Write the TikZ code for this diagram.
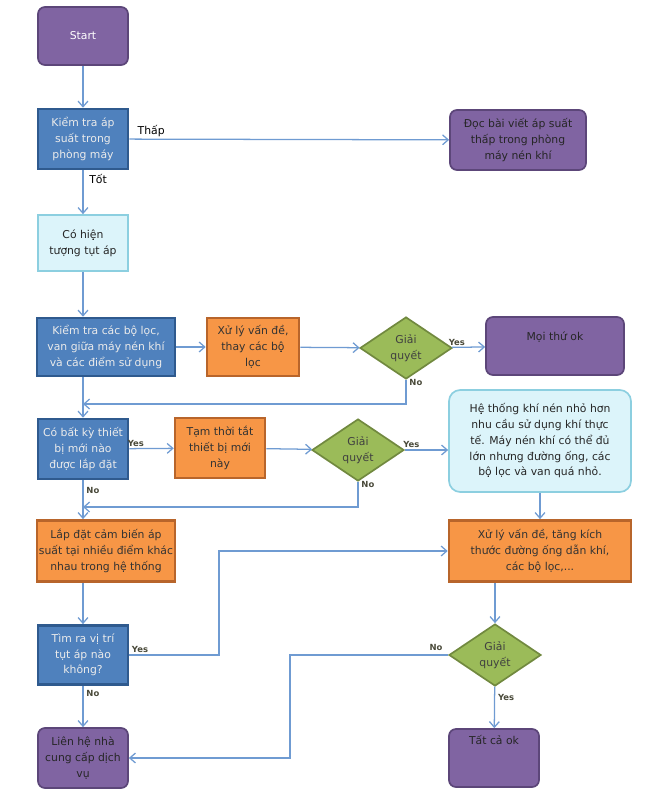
\documentclass[tikz,border=0pt]{standalone}
\usepackage{fontspec}
\setmainfont{DejaVu Sans}
\usetikzlibrary{shapes.geometric,arrows.meta}

\definecolor{purplefill}{HTML}{8064A2}
\definecolor{purpleline}{HTML}{5C4679}
\definecolor{bluefill}{HTML}{4F81BD}
\definecolor{blueline}{HTML}{2F5A8E}
\definecolor{orangefill}{HTML}{F79646}
\definecolor{orangeline}{HTML}{B8652B}
\definecolor{greenfill}{HTML}{9BBB59}
\definecolor{greenline}{HTML}{71893F}
\definecolor{cyanfill}{HTML}{DCF4FA}
\definecolor{cyanline}{HTML}{8CCFE0}
\definecolor{arrowblue}{HTML}{6F9BD2}
\definecolor{labelgrey}{HTML}{4A4A3A}

\begin{document}
\begin{tikzpicture}[x=0.025cm, y=-0.025cm,
    every node/.style={align=center, font=\fontsize{7.7}{11.2}\selectfont, inner sep=1pt},
    endbox/.style={rectangle, rounded corners=5pt, draw=purpleline, line width=1.2pt, fill=purplefill, text=black!85},
    checkbox/.style={rectangle, draw=blueline, line width=1.8pt, fill=bluefill, text=white!92!black},
    fixbox/.style={rectangle, draw=orangeline, line width=1.8pt, fill=orangefill, text=black!80},
    infobox/.style={rectangle, draw=cyanline, line width=1.2pt, fill=cyanfill, text=black!85},
    decide/.style={diamond, draw=greenline, line width=1.2pt, fill=greenfill, text=black!75, minimum width=2.3cm, minimum height=1.55cm, inner sep=0pt},
    lbl/.style={fill=none, text=labelgrey, font=\fontsize{6}{7}\selectfont\bfseries},
    txt/.style={fill=none, text=black, font=\fontsize{7.7}{9}\selectfont},
    flow/.style={->, draw=arrowblue, line width=0.9pt},
    >={Straight Barb[length=4pt, width=7pt]}]

    \useasboundingbox (0,0) rectangle (664,800);

    % nodes
    \node (start) at (83,36) [endbox, text=white, minimum width=2.25cm, minimum height=1.45cm] {Start};
    \node (check1) at (83,139) [checkbox, minimum width=2.25cm, minimum height=1.5cm] {Kiểm tra áp\\suất trong\\phòng máy};
    \node (read) at (518,140) [endbox, minimum width=3.4cm, minimum height=1.5cm] {Đọc bài viết áp suất\\thấp trong phòng\\máy nén khí};
    \node (cohien) at (83,243) [infobox, minimum width=2.25cm, minimum height=1.4cm] {Có hiện\\tượng tụt áp};
    \node (check2) at (106,347) [checkbox, minimum width=3.45cm, minimum height=1.45cm] {Kiểm tra các bộ lọc,\\van giữa máy nén khí\\và các điểm sử dụng};
    \node (fix1) at (253,347) [fixbox, minimum width=2.3cm, minimum height=1.45cm] {Xử lý vấn đề,\\thay các bộ\\lọc};
    \node (dec1) at (406,348) [decide] {Giải\\quyết};
    \node (ok1) at (555,346) [endbox, minimum width=3.45cm, minimum height=1.45cm] {Mọi thứ ok\\\strut};
    \coordinate (m1) at (83,404);
    \node (check3) at (83,449) [checkbox, minimum width=2.25cm, minimum height=1.5cm] {Có bất kỳ thiết\\bị mới nào\\được lắp đặt};
    \node (tmp) at (220,448) [fixbox, minimum width=2.25cm, minimum height=1.5cm] {Tạm thời tắt\\thiết bị mới\\này};
    \node (dec2) at (358,450) [decide] {Giải\\quyết};
    \node (sys) at (540,441) [infobox, rounded corners=8pt, minimum width=4.55cm, minimum height=2.55cm] {Hệ thống khí nén nhỏ hơn\\nhu cầu sử dụng khí thực\\tế. Máy nén khí có thể đủ\\lớn nhưng đường ống, các\\bộ lọc và van quá nhỏ.};
    \coordinate (m2) at (83,507);
    \node (install) at (106,551) [fixbox, minimum width=3.45cm, minimum height=1.53cm] {Lắp đặt cảm biến áp\\suất tại nhiều điểm khác\\nhau trong hệ thống};
    \node (fix2) at (540,551) [fixbox, minimum width=4.55cm, minimum height=1.53cm] {Xử lý vấn đề, tăng kích\\thước đường ống dẫn khí,\\các bộ lọc,...};
    \node (find) at (83,655) [checkbox, minimum width=2.25cm, minimum height=1.48cm] {Tìm ra vị trí\\tụt áp nào\\không?};
    \node (dec3) at (495,655) [decide] {Giải\\quyết};
    \coordinate (j1) at (219,551);
    \coordinate (j2) at (290,655);
    \node (contact) at (83,758) [endbox, minimum width=2.25cm, minimum height=1.5cm] {Liên hệ nhà\\cung cấp dịch\\vụ};
    \node (allok) at (494,758) [endbox, minimum width=2.25cm, minimum height=1.45cm] {Tất cả ok\\\strut\\\strut};

    % connectors
    \draw[flow] (start) -- (check1);
    \draw[flow] (check1) -- (read) node[txt, pos=0.02, above right] {Thấp};
    \draw[flow] (check1) -- (cohien) node[txt, pos=0.2, right=3pt] {Tốt};
    \draw[flow] (cohien) -- (cohien |- check2.north);
    \draw[flow] (check2) -- (fix1);
    \draw[flow] (fix1) -- (dec1);
    \draw[flow] (dec1) -- (ok1) node[lbl, pos=0.15, above] {Yes};
    \draw[flow] (dec1.south) |- (m1) node[lbl, pos=0.05, right=1pt] {No};
    \draw[flow] (check2.south -| check3.north) -- (check3.north);
    \draw[flow] (check3) -- (tmp) node[lbl, pos=0.15, above] {Yes};
    \draw[flow] (tmp) -- (dec2);
    \draw[flow] (dec2) -- (sys.west |- dec2) node[lbl, pos=0.15, above] {Yes};
    \draw[flow] (dec2.south) |- (m2) node[lbl, pos=0.05, right=1pt] {No};
    \draw[flow] (check3) -- (check3 |- install.north) node[lbl, pos=0.25, right=1pt] {No};
    \draw[flow] (install.south -| find.north) -- (find.north);
    \draw[flow] (find) -| (j1) -- (j1 -| fix2.west);
    \node[lbl] at (140,649) {Yes};
    \draw[flow] (sys) -- (fix2);
    \draw[flow] (fix2.south -| dec3.north) -- (dec3.north);
    \draw[flow] (dec3) -- (j2) |- (contact);
    \node[lbl] at (436,647) {No};
    \draw[flow] (dec3) -- (allok) node[lbl, pos=0.25, right=1pt] {Yes};
    \draw[flow] (find) -- (contact) node[lbl, pos=0.18, right=1pt] {No};
\end{tikzpicture}
\end{document}
